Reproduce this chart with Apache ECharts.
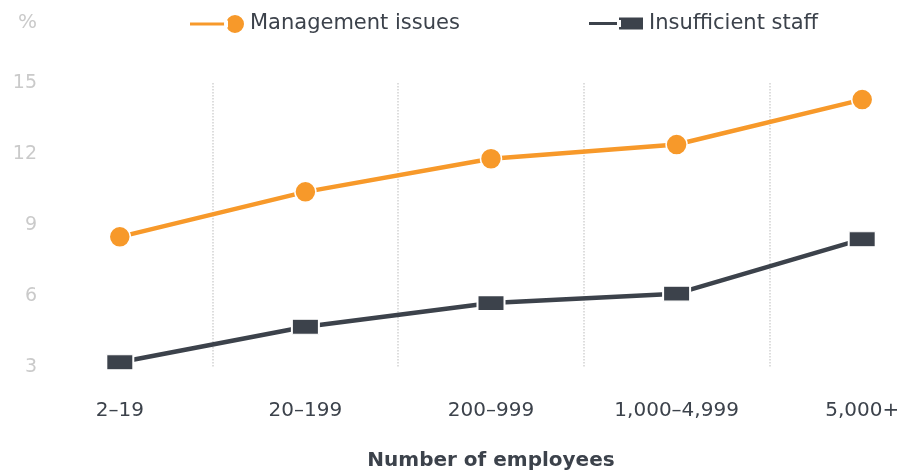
<!DOCTYPE html>
<html>
<head>
<meta charset="utf-8">
<script src="https://cdn.jsdelivr.net/npm/echarts@6/dist/echarts.min.js"></script>
<style>
    html, body { margin: 0; padding: 0; background: #fff; }
    #chart { width: 897px; height: 472px; }
</style>
</head>
<body>
<div id="chart"></div>
<script>
const categories = ['2–19', '20–199', '200–999', '1,000–4,999', '5,000+']
const managementIssues = [8.5, 10.4, 11.8, 12.4, 14.3]
const insufficientStaff = [3.2, 4.7, 5.7, 6.1, 8.4]
const yTicks = { min: 3, max: 15, interval: 3 }

const ORANGE = '#F7992A'
const DARK = '#3C424B'
const GREY = '#cacaca'
const FONT = 'DejaVu Sans'

// legend icons: a short line with the marker sitting at its right end
const circleIcon = 'path://M0,7.5L38,7.5L38,12.5L0,12.5Z M36,10a10,10 0 1,0 20,0a10,10 0 1,0 -20,0Z'
const rectIcon = 'path://M0,7.5L32,7.5L32,12.5L0,12.5Z M30,3L56,3L56,17L30,17Z'

const legendText = { fontSize: 21, color: DARK, fontFamily: FONT }

const chart = echarts.init(document.getElementById('chart'))

chart.setOption({
    animation: false,
    textStyle: { fontFamily: FONT },
    legend: [
        {
            top: 8,
            left: 183,
            itemWidth: 56,
            itemHeight: 20,
            itemGap: 10,
            textStyle: legendText,
            data: [{ name: 'Management issues', icon: circleIcon }],
        },
        {
            top: 8,
            left: 582,
            itemWidth: 56,
            itemHeight: 20,
            textStyle: legendText,
            data: [{ name: 'Insufficient staff', icon: rectIcon }],
        },
    ],
    grid: {
        left: 27,
        width: 928,
        top: 83,
        height: 284,
        outerBoundsMode: 'none',
        containLabel: false,
    },
    xAxis: {
        type: 'category',
        data: categories,
        boundaryGap: true,
        name: 'Number of employees',
        nameLocation: 'middle',
        nameGap: 84,
        nameTextStyle: { fontSize: 20, fontWeight: 'bold', color: DARK },
        axisLine: { show: false },
        axisTick: { show: false },
        axisLabel: { fontSize: 20, color: DARK, margin: 34 },
        splitLine: {
            show: true,
            interval: (index) => index !== 0,
            lineStyle: { type: 'dotted', color: '#d2d2d2', width: 1.5 },
        },
    },
    yAxis: {
        type: 'value',
        min: yTicks.min,
        max: yTicks.max,
        interval: yTicks.interval,
        name: '%',
        nameLocation: 'end',
        nameGap: 50,
        nameTextStyle: { fontSize: 20, color: GREY, align: 'right', padding: [0, -10, 0, 0] },
        axisLine: { show: false },
        axisTick: { show: false },
        splitLine: { show: false },
        axisLabel: { fontSize: 19, color: GREY, margin: -10 },
    },
    series: [
        {
            name: 'Management issues',
            type: 'line',
            data: managementIssues,
            symbol: 'circle',
            symbolSize: 21,
            lineStyle: { color: ORANGE, width: 4.5 },
            itemStyle: { color: ORANGE, borderColor: '#fff', borderWidth: 1.5 },
            z: 3,
        },
        {
            name: 'Insufficient staff',
            type: 'line',
            data: insufficientStaff,
            symbol: 'rect',
            symbolSize: [27, 15],
            lineStyle: { color: DARK, width: 4.5 },
            itemStyle: { color: DARK, borderColor: '#fff', borderWidth: 1.5 },
            z: 2,
        },
    ],
})
</script>
</body>
</html>
